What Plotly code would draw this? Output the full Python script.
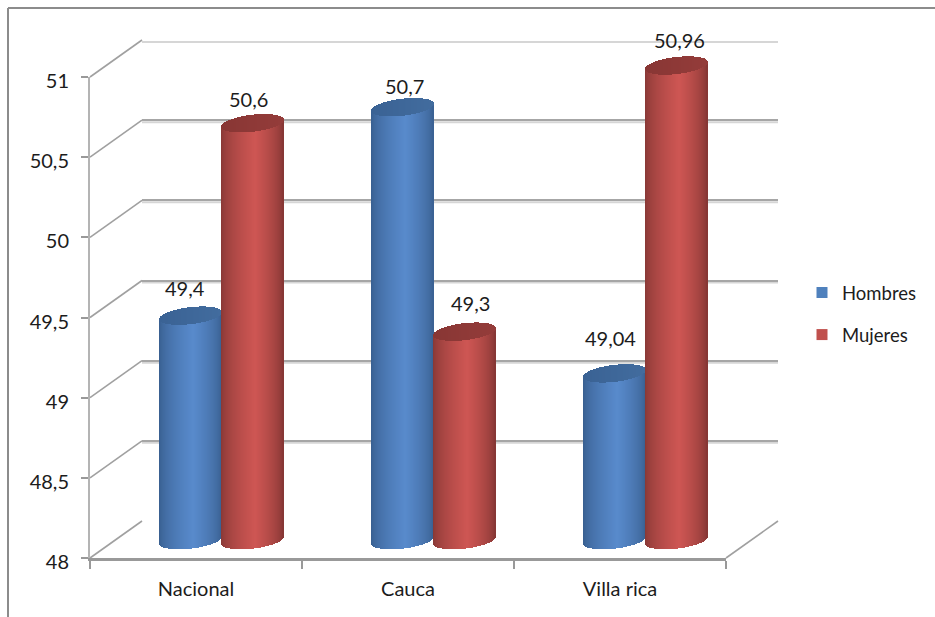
import numpy as np
import plotly.graph_objects as go

categories = ["Nacional", "Cauca", "Villa rica"]
hombres = [49.4, 50.7, 49.04]
mujeres = [50.6, 49.3, 50.96]
y_ticks = [48, 48.5, 49, 49.5, 50, 50.5, 51]
y_tick_labels = ["48", "48,5", "49", "49,5", "50", "50,5", "51"]

W, H = 935, 617
FONT = "Lato, Carlito, Open Sans, sans-serif"
TXT = "#1c1c1c"
GRID = "#a6a6a6"

def fx(p): return p / W
def fy(p): return 1 - p / H

# pixel frames of the pseudo 3D box
FRONT_L, FRONT_R, FRONT_B, FRONT_T = 90, 726, 558, 77
DX, DY = 52, 37
BAR_B = 540
PX_PER_UNIT = (FRONT_B - FRONT_T) / 3.0
BAR_MIN, BAR_MAX = 47.9, 51.3

# cylinder geometry in axis units
N = 62
half_w = 31 / 212.0
h = 8.5 / PX_PER_UNIT
tilt = 3.5 / PX_PER_UNIT
u = (np.arange(N) + 0.5) / N * 2 - 1
s = np.sqrt(1 - u ** 2)


def lerp_color(c0, c1, t):
    return "rgb(%d,%d,%d)" % tuple(round(a + (b - a) * t) for a, b in zip(c0, c1))


def side_colors(edgeL, mid, edgeR):
    out = []
    for x in u:
        if x < 0.1:
            t = ((x + 1) / 1.1) ** 0.6
            out.append(lerp_color(edgeL, mid, t))
        else:
            t = ((1 - x) / 0.9) ** 0.6
            out.append(lerp_color(edgeR, mid, t))
    return out


def cap_colors(c0, c1):
    return [lerp_color(c0, c1, (x + 1) / 2) for x in u]


fig = go.Figure()

# front axis carrier and legend entries
fig.add_trace(go.Scatter(x=[None], y=[None], mode="markers", name="Hombres", legendgroup="a",
                         marker=dict(symbol="square", size=11, color="#4f81bd"), xaxis="x", yaxis="y"))
fig.add_trace(go.Scatter(x=[None], y=[None], mode="markers", name="Mujeres", legendgroup="b",
                         marker=dict(symbol="square", size=11, color="#c0504d"), xaxis="x", yaxis="y"))
# back wall carrier
fig.add_trace(go.Scatter(x=[0], y=[48], mode="none", showlegend=False, hoverinfo="skip", xaxis="x2", yaxis="y2"))


def cylinders(values, offset, side, cap):
    xs, bases, heights, cols = [], [], [], []
    cx, cb, ch, cc = [], [], [], []
    for i, v in enumerate(values):
        xc = i + 0.5 + offset
        for k in range(N):
            x = xc + u[k] * half_w
            low = 48 + tilt * u[k] - h * s[k]
            top = v + tilt * u[k] - h * s[k]
            xs.append(x); bases.append(low); heights.append(top - low); cols.append(side[k])
            cx.append(x); cb.append(top); ch.append(2 * h * s[k]); cc.append(cap[k])
    w = 2 * half_w / N * 1.5
    fig.add_trace(go.Bar(x=xs, y=heights, base=bases, width=w, marker=dict(color=cols, line=dict(width=0)),
                         showlegend=False, hoverinfo="skip", xaxis="x3", yaxis="y3"))
    fig.add_trace(go.Bar(x=cx, y=ch, base=cb, width=w, marker=dict(color=cc, line=dict(width=0)),
                         showlegend=False, hoverinfo="skip", xaxis="x3", yaxis="y3"))


cylinders(hombres, -half_w, side_colors((54, 92, 140), (88, 138, 204), (56, 94, 142)),
          cap_colors((58, 98, 148), (66, 108, 158)))
cylinders(mujeres, half_w, side_colors((132, 54, 52), (206, 86, 83), (128, 52, 50)),
          cap_colors((136, 54, 52), (148, 60, 58)))

# data labels
annotations = []
label_dx = [[-6, 1, -5], [-5, 5, 2]]
label_dy = [[28, 21, 35], [24, 29, 25]]
for sidx, (vals, off) in enumerate([(hombres, -half_w), (mujeres, half_w)]):
    for i, v in enumerate(vals):
        annotations.append(dict(x=i + 0.5 + off, y=v, xref="x3", yref="y3", text=str(v).replace(".", ","),
                                showarrow=False, xanchor="center", yanchor="middle",
                                xshift=label_dx[sidx][i], yshift=label_dy[sidx][i],
                                font=dict(family=FONT, size=20, color=TXT)))

# depth lines, soft shadows under the gridlines, and chart border
shapes = []
for t in y_ticks:
    yf = FRONT_B - (t - 48) * PX_PER_UNIT
    shapes.append(dict(type="line", xref="paper", yref="paper", layer="below",
                       x0=fx(FRONT_L), y0=fy(yf), x1=fx(FRONT_L + DX), y1=fy(yf - DY),
                       line=dict(color="#a0a0a0", width=1.6)))
    shapes.append(dict(type="line", xref="x2", yref="y2", layer="below", x0=0, x1=3,
                       y0=t - 2 / PX_PER_UNIT, y1=t - 2 / PX_PER_UNIT,
                       line=dict(color="#d6d6d6", width=2)))
shapes.append(dict(type="line", xref="paper", yref="paper", layer="below",
                   x0=fx(FRONT_R), y0=fy(FRONT_B), x1=fx(FRONT_R + DX), y1=fy(FRONT_B - DY),
                   line=dict(color="#a0a0a0", width=1.6)))
shapes.append(dict(type="line", xref="paper", yref="paper", x0=fx(8), y0=fy(8), x1=fx(8), y1=0,
                   line=dict(color="#8c8c8c", width=2)))
shapes.append(dict(type="line", xref="paper", yref="paper", x0=fx(8), y0=fy(8), x1=1, y1=fy(8),
                   line=dict(color="#8c8c8c", width=2)))

fig.update_layout(
    width=W, height=H, margin=dict(l=0, r=0, t=0, b=0, autoexpand=False),
    paper_bgcolor="white", plot_bgcolor="rgba(0,0,0,0)", barmode="overlay", bargap=0,
    font=dict(family=FONT, size=20, color=TXT),
    shapes=shapes, annotations=annotations,
    legend=dict(x=fx(802), y=fy(274), xanchor="left", yanchor="top", traceorder="grouped",
                tracegroupgap=15, font=dict(family=FONT, size=18.5, color=TXT), bgcolor="rgba(0,0,0,0)"),
    xaxis=dict(domain=[fx(FRONT_L), fx(FRONT_R)], range=[0, 3], anchor="y", tickmode="array",
               tickvals=[0.5, 1.5, 2.5], ticktext=categories, ticks="", showgrid=False, zeroline=False,
               showline=True, linecolor="#999999", linewidth=3,
               minor=dict(tickmode="array", tickvals=[0, 1, 2, 3], ticks="outside", ticklen=8, tickwidth=2,
                          tickcolor="#999999", showgrid=False),
               tickfont=dict(family=FONT, size=20, color=TXT), ticklabelstandoff=11),
    yaxis=dict(domain=[fy(FRONT_B), fy(FRONT_T)], range=[48, 51], anchor="x", tickmode="array",
               tickvals=y_ticks, ticktext=y_tick_labels, ticks="outside", ticklen=7, tickwidth=2,
               tickcolor="#999999", showgrid=False, zeroline=False, showline=True, linecolor="#b4b4b4",
               linewidth=2, tickfont=dict(family=FONT, size=20, color=TXT), ticklabelstandoff=8,
               ticklabelshift=4),
    xaxis2=dict(domain=[fx(FRONT_L + DX), fx(FRONT_R + DX)], range=[0, 3], anchor="y2", visible=False),
    yaxis2=dict(domain=[fy(FRONT_B - DY), fy(FRONT_T - DY)], range=[48, 51], anchor="x2", tickvals=y_ticks,
                showticklabels=False, ticks="", showgrid=True, gridcolor=GRID, gridwidth=2, zeroline=False,
                showline=False),
    xaxis3=dict(domain=[fx(FRONT_L + 26), fx(FRONT_R + 26)], range=[0, 3], anchor="y3", visible=False),
    yaxis3=dict(domain=[fy(BAR_B + (48 - BAR_MIN) * PX_PER_UNIT), fy(BAR_B - (BAR_MAX - 48) * PX_PER_UNIT)],
                range=[BAR_MIN, BAR_MAX], anchor="x3", visible=False),
)

fig.write_html("out.html", config={"displayModeBar": False},
               post_script="document.body.style.margin='0';document.documentElement.style.overflow='hidden';")
